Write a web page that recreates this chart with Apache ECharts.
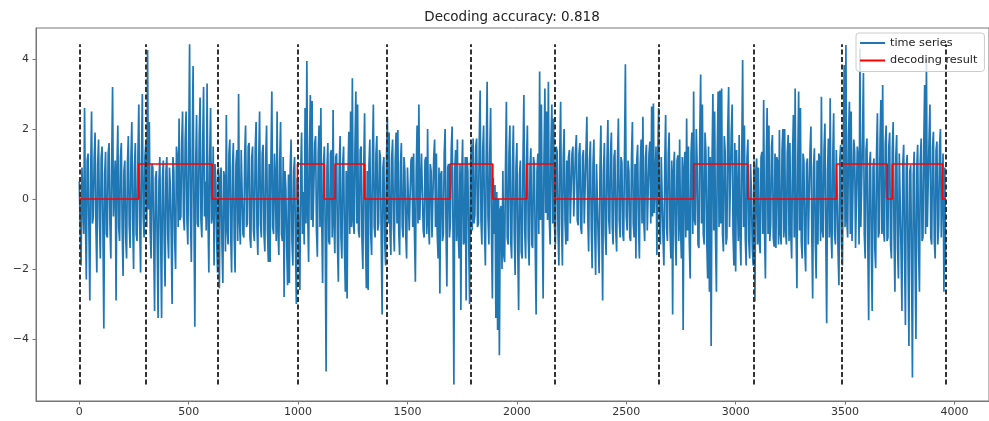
<!DOCTYPE html>
<html><head><meta charset="utf-8">
<script src="https://cdn.jsdelivr.net/npm/echarts@6/dist/echarts.min.js"></script>
<style>html,body{margin:0;padding:0;background:#fff}#c{width:989px;height:421px}</style>
</head><body><div id="c"></div>
<script>
const titleText = 'Decoding accuracy: 0.818';
const seriesNames = ['time series', 'decoding result'];
const sampleStep = 8;
// spike (column extreme) values, one per 8 time steps
const seg1 = [0.5,-1.9,0.9,2.6,-2.3,1.3,-2.9,2.5,-0.5,1.9,-2.1,1.7,-1.7,1.5,-3.7,1.35,-1.1,1.6,-1.7,3.2,-0.5,-2.9,2.1,-1.2,1.6,-2.2,1.1,-1.7,1.8,-1.4,2.2,-2.0,1.6,-1.2,2.7,-2.1,3.0,-1.1,1.6,4.26,2.2,-1.7,0.9,-3.2,0.8,-3.4,1.2,-3.4,1.1,-2.5,1.2,-1.7];
const seg2 = [0.4,-3.0,0.8,-2.0,1.2,2.3,-0.5,2.5,-0.9,2.5,-1.3,4.42,-1.8,3.8,-3.65,2.4,-0.8,2.9,-1.1,3.2,0.5,3.3,-2.1,2.6,-0.5,-1.9,0.5,-2.1,-2.55,0.9,-2.4,0.6,2.4,-1.3,1.7,-2.1,1.6,-2.1,1.4,3.0,-1.3,1.4,-1.1,2.1,-0.7,1.6,-1.4,1.5,-1.2,2.2,-1.6,2.5,-1.1,1.55,-1.5,2.1,-1.8];
const seg3 = [-1.8,3.07,-1.0,0.5,2.5,-1.6,2.2,-1.2,-2.8,0.3,-2.46,-2.4,1.7,-1.9,1.2,-3.0,0.5,-2.6,1.9,0.2,2.6,3.94,-1.8,2.97,2.8,-0.8,1.8,-1.65,2.1,2.6,-2.4,1.5,-4.93,1.6,-1.3,1.4,2.54,-1.55,1.3,-2.36,1.8,-1.7,1.5,-2.65,-2.84,1.92,2.5,3.45,-1.0,3.07,2.7,-1.1,1.5,-2.0,2.45,-2.55];
const seg4 = [-2.6,1.7,-1.6,2.7,-1.1,1.8,-0.7,1.2,-3.3,1.2,-1.9,2.35,1.9,-1.6,1.7,-1.5,1.9,1.97,-1.6,1.6,-1.1,0.8,-1.7,0.9,-0.9,1.2,1.3,-2.36,2.1,2.7,-0.65,1.3,-1.1,1.2,2.0,-1.3,0.8,-1.1,1.7,1.3,-1.7,-2.7,0.8,-1.0,2.0,-2.5,1.0,-0.7,2.07,-5.3,1.4,1.7,-1.7,-3.17,1.7,-1.2];
const seg5 = [-2.9,0.8,-3.0,1.55,1.73,-0.45,1.73,-0.7,3.1,-1.3,2.1,-1.9,3.35,-1.3,2.6,-2.84,-1.0,-3.4,-3.74,-4.46,-0.2,0.8,-1.8,2.78,-1.3,2.1,-1.7,2.1,-2.17,1.6,-3.17,1.1,-1.7,2.97,-1.7,2.1,-1.9,1.45,-1.4,1.0,-3.3,1.3,3.64,2.7,-2.84,3.16,2.5,3.35,-1.3,2.7,2.3,-1.3,1.35,-1.9,2.78,-1.9];
const seg6 = [2.0,-1.3,-1.2,1.4,-0.75,1.5,-0.55,1.83,-0.75,1.6,-1.0,1.4,-0.65,2.35,-1.5,1.65,-1.98,1.7,-2.17,1.0,-2.12,2.1,-2.9,1.6,-1.6,2.26,-1.0,1.9,-1.3,1.4,-1.5,2.3,-1.1,1.05,-1.2,3.85,-0.9,0.8,-1.2,2.2,-1.1,-1.7,1.55,-1.7,1.7,2.35,-1.2,1.55,-0.85,1.64,2.64,2.73,-0.36,-1.6,2.6];
const seg7 = [-1.3,1.16,-1.9,2.4,-1.2,1.9,-1.7,-3.3,1.35,-1.9,1.25,1.7,-1.7,-3.74,1.35,2.3,1.5,-2.27,1.9,3.07,-0.75,1.0,-1.4,3.56,2.7,-1.3,1.35,-2.27,-2.65,-4.2,3.0,2.5,-2.65,3.07,3.1,3.16,-1.5,1.35,-1.1,3.2,-0.75,2.7,-1.9,-2.07,1.35,1.83,-1.9,3.97,2.1,-1.9,1.7,-1.7,0.2,-1.9,-2.93,1.16];
const seg8 = [0.9,-1.55,1.35,2.83,-2.27,2.6,2.1,-0.75,1.83,-1.36,-1.4,1.07,1.97,-1.3,2.0,2.0,-1.3,1.83,1.6,-1.7,2.4,3.16,-2.55,3.07,2.6,-1.7,1.1,-2.07,1.16,-1.3,2.07,-2.84,1.45,-2.27,-1.3,1.16,2.92,-1.1,2.16,-3.55,1.73,2.88,-1.7,2.45,-1.3,0.2,-2.46,1.55,-1.9,3.83,4.4,-1.1,2.78,2.5,-1.2,1.35];
const seg9 = [-1.4,1.2,4.3,-0.75,3.6,-1.7,1.73,-3.46,1.35,-3.2,1.16,-1.98,2.45,-0.95,2.83,3.26,-1.22,2.1,-1.1,1.9,-1.7,2.2,-2.65,1.83,-2.27,1.35,-3.2,1.55,-3.6,1.26,-4.2,0.97,-5.1,1.35,-4.0,1.55,-2.65,1.73,-1.1,3.26,4.0,-0.75,2.7,-1.3,1.92,-1.7,1.64,-0.75,2.0,-1.1,-2.65,-1.9];
// dense-core values between the spikes (opposite edge of the band), read per column
const core1 = [-0.8,0.9,-1.0,-0.6,1.1,-0.9,0.8,-0.7,1.2,-0.8,1.0,-0.6,1.2,-0.9,0.7,-1.0,1.3,-0.7,1.0,-0.5,1.1,0.9,-0.8,1.2,-0.9,0.8,-1.1,1.0,-0.7,1.2,-0.6,0.9,-1.0,1.3,-0.7,1.0,-0.5,1.2,-0.8,-0.3,-0.9,1.0,-1.2,0.6,-1.3,0.5,-1.1,0.6,-1.2,0.8,-1.0,0.9];
const core2 = [-1.0,1.2,-1.2,1.5,-0.8,-0.6,1.6,-0.5,1.7,-0.6,1.5,-0.4,1.3,-0.5,1.0,-0.7,1.8,-0.6,1.6,-0.5,-0.9,-0.4,1.2,-0.7,1.5,1.0,-1.2,0.9,0.6,-1.3,0.8,-1.5,-0.9,1.3,-1.0,0.9,-1.1,1.0,-1.2,-0.6,1.4,-1.0,1.3,-0.8,1.5,-1.1,1.2,-0.9,1.4,-0.8,1.1,-0.7,1.3,-1.0,1.2,-0.9,1.0];
const core3 = [1.2,-0.8,1.3,-1.2,-0.9,1.1,-1.0,1.2,0.8,-1.4,0.7,0.9,-1.2,0.8,-1.3,0.6,-1.5,0.8,-1.0,-1.3,-0.7,-0.4,1.4,-0.6,-0.8,1.6,-0.9,1.3,-0.8,-0.6,1.0,-1.1,0.9,-1.2,1.3,-1.1,-0.7,1.2,-1.3,0.9,-1.1,1.0,-1.4,0.8,0.7,-1.0,-0.8,-0.6,1.5,-0.7,-0.9,1.4,-1.2,0.9,-1.0,0.8];
const core4 = [1.0,-1.0,1.2,-0.8,1.3,-0.9,1.4,-1.1,0.9,-1.2,1.1,-0.7,-0.9,1.2,-0.8,1.1,-0.7,-0.9,1.0,-0.8,1.2,-1.0,0.9,-0.9,1.1,-0.8,-1.0,0.8,-0.7,-0.6,1.3,-0.9,1.1,-1.0,-0.7,1.0,-1.1,1.2,-0.8,-1.0,0.9,0.7,-1.2,1.3,-0.8,0.9,-1.1,1.4,-0.9,0.8,-1.2,-1.0,1.0,0.7,-1.3,1.2];
const core5 = [1.2,-1.3,1.0,-0.9,-0.7,1.5,-0.8,1.6,-0.6,1.4,-0.8,1.2,-0.5,1.3,-1.0,0.6,0.4,0.2,0.0,-0.3,-2.0,-1.6,0.9,-1.1,1.3,-1.2,1.0,-1.0,0.9,-1.4,0.7,-1.5,1.1,-0.9,1.0,-1.1,0.9,-1.3,1.2,-1.4,0.8,-1.0,-0.6,-0.5,1.2,-0.4,-0.6,-0.5,1.6,-0.7,-0.8,1.5,-0.9,1.3,-0.7,1.2];
const core6 = [-0.6,1.1,1.2,-0.7,1.3,-0.5,1.4,-0.6,1.3,-0.8,1.2,-0.7,1.4,-0.5,1.1,-0.8,1.0,-0.9,1.0,-1.2,0.9,-0.7,0.8,-1.0,1.1,-0.6,1.3,-0.8,1.2,-0.9,1.1,-0.6,1.2,-1.0,1.3,-0.5,1.1,-1.1,1.2,-0.7,1.0,1.1,-0.8,1.0,-0.7,-0.6,1.2,-0.9,1.3,-0.7,-0.5,-0.4,1.5,1.2,-0.8];
const core7 = [1.2,-1.1,1.0,-0.8,1.3,-0.9,1.1,0.8,-1.0,1.1,-1.2,-0.8,1.2,0.9,-1.1,-0.9,-1.2,1.3,-1.0,-0.6,2.0,-1.3,1.8,-0.7,-1.0,1.9,-1.2,1.5,1.2,1.0,-0.9,-1.1,1.4,-0.8,-0.7,-1.0,1.8,-1.3,2.0,-0.8,1.9,-1.0,1.6,1.4,-1.2,-1.0,1.3,-0.8,-1.1,1.2,-1.2,1.0,-1.4,1.1,0.8,-1.3];
const core8 = [-1.2,1.2,-1.0,-0.9,1.1,-1.0,-1.2,1.5,-1.1,1.3,1.2,-1.3,-1.0,1.4,-1.1,-0.9,1.3,-1.2,-1.0,1.2,-1.1,-0.8,1.1,-0.9,-1.2,1.3,-1.4,1.0,-1.3,1.4,-1.0,0.9,-1.2,1.1,1.3,-1.2,-0.9,1.4,-1.0,0.8,-1.1,-0.9,1.2,-1.0,1.4,-1.5,1.1,-1.3,1.2,-0.8,-0.6,1.8,-1.0,-1.2,1.7,-1.4];
const core9 = [1.5,-1.3,-0.8,1.8,-1.0,1.4,-1.2,1.0,-1.3,0.9,-1.4,1.3,-1.1,1.7,-1.0,-0.9,1.6,-1.2,1.5,-1.3,1.4,-1.1,1.2,-1.4,1.3,-1.5,1.0,-1.6,0.9,-1.7,0.8,-1.8,0.7,-1.6,0.9,-1.4,1.1,-1.2,1.6,-1.0,-0.8,1.7,-1.1,1.5,-1.2,1.4,-1.3,1.5,-1.1,1.3,0.9,1.0];
const spikes = [].concat(seg1, seg2, seg3, seg4, seg5, seg6, seg7, seg8, seg9);
const cores = [].concat(core1, core2, core3, core4, core5, core6, core7, core8, core9);
const changePoints = [0, 305, 634, 999, 1406, 1791, 2171, 2650, 3081, 3484, 3960];
const decodeStarts = [0, 272, 607, 997, 1119, 1169, 1304, 1694, 1890, 2045, 2174, 2808, 3056, 3461, 3693, 3716, 3945];
const decodeStates = [0, 1, 0, 1, 0, 1, 0, 1, 0, 1, 0, 1, 0, 1, 0, 1, 0];
const decodeEnd = 3960;

const seriesData = [];
spikes.forEach((v, i) => {
  seriesData.push([i * sampleStep, v]);
  if (i < cores.length && i < spikes.length - 1) seriesData.push([i * sampleStep + sampleStep / 2, cores[i]]);
});
const decodeData = decodeStarts.map((x, i) => [x, decodeStates[i]]);
decodeData.push([decodeEnd, decodeStates[decodeStates.length - 1]]);
const yLo = Math.min.apply(null, spikes);
const yHi = Math.max.apply(null, spikes);
const vlineData = changePoints.map(x => [{coord: [x, yLo]}, {coord: [x, yHi]}]);

const axisColor = '#777';
const labelColor = '#333';
const fontFamily = 'DejaVu Sans';
function fmt(step) {
  return function (v) {
    if (Math.abs(v / step - Math.round(v / step)) > 1e-6) return '';
    return v < 0 ? '\u2212' + Math.abs(v) : String(v);
  };
}
const chart = echarts.init(document.getElementById('c'), null, {renderer: 'canvas'});
chart.setOption({
  animation: false,
  backgroundColor: '#fff',
  title: {
    text: titleText, left: 512, top: 10, padding: 0, textAlign: 'center',
    textStyle: {fontFamily: fontFamily, fontSize: 13.5, fontWeight: 'normal', color: '#222'}
  },
  legend: {
    orient: 'vertical', left: 856, top: 33, padding: [3, 7, 4, 4],
    itemWidth: 25, itemHeight: 2, itemGap: 3.5, icon: 'rect',
    backgroundColor: 'rgba(255,255,255,0.8)', borderColor: '#ccc', borderWidth: 1, borderRadius: 3,
    textStyle: {fontFamily: fontFamily, fontSize: 11.3, color: '#222', lineHeight: 14},
    data: seriesNames
  },
  grid: {left: 36, top: 28, width: 956, height: 373, show: true, borderColor: axisColor, borderWidth: 1, backgroundColor: 'transparent'},
  xAxis: {
    type: 'value', min: -198, max: 4158, splitNumber: 8,
    splitLine: {show: false},
    axisLine: {show: true, onZero: false, lineStyle: {color: axisColor}},
    axisTick: {show: true, length: 3.5, lineStyle: {color: axisColor}},
    axisLabel: {showMinLabel: false, showMaxLabel: false, margin: 6, color: labelColor, fontFamily: fontFamily, fontSize: 11, formatter: fmt(500)}
  },
  yAxis: {
    type: 'value', min: -5.77, max: 4.886, splitNumber: 5,
    splitLine: {show: false},
    axisLine: {show: true, onZero: false, lineStyle: {color: axisColor}},
    axisTick: {show: true, length: 3.5, lineStyle: {color: axisColor}},
    axisLabel: {showMinLabel: false, showMaxLabel: false, margin: 7, color: labelColor, fontFamily: fontFamily, fontSize: 11, formatter: fmt(2)}
  },
  series: [
    {name: seriesNames[0], type: 'line', data: seriesData, symbol: 'none', z: 2,
     lineStyle: {color: '#1f77b4', width: 1.7}, itemStyle: {color: '#1f77b4'}, sampling: null},
    {name: seriesNames[1], type: 'line', data: decodeData, step: 'end', symbol: 'none', z: 3,
     lineStyle: {color: '#ff0000', width: 1.6}, itemStyle: {color: '#ff0000'}},
    {name: 'changepoints', type: 'line', data: [], z: 4,
     markLine: {silent: true, symbol: ['none', 'none'], label: {show: false}, animation: false,
       lineStyle: {color: '#333', width: 2, type: [5, 2.5], opacity: 1}, emphasis: {disabled: true},
       data: vlineData}}
  ]
});
</script></body></html>
